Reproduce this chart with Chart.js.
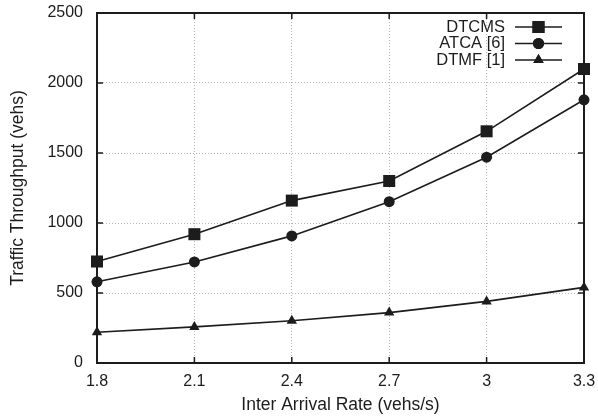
<!DOCTYPE html>
<html>
<head>
<meta charset="utf-8">
<script src="https://cdn.jsdelivr.net/npm/chart.js@4/dist/chart.umd.min.js"></script>
<style>
  html, body { margin: 0; padding: 0; background: #fff; }
  #wrap { width: 598px; height: 417px; }
</style>
</head>
<body>
<div id="wrap"><canvas id="chart"></canvas></div>
<script>
// values
const rates = ["1.8", "2.1", "2.4", "2.7", "3", "3.3"];
const dtcms = [725, 920, 1160, 1300, 1655, 2100];
const atca = [580, 722, 908, 1152, 1470, 1880];
const dtmf = [220, 258, 302, 360, 440, 540];
const yTicks = [0, 500, 1000, 1500, 2000, 2500];

const INK = "#1c1c1c";
const FONT = "'Liberation Sans', Arial, Helvetica, sans-serif";

// gnuplot-like frame: box + inward ticks on all four sides
const frame = {
  id: "frame",
  beforeDatasetsDraw(chart) {
    const { ctx, chartArea: a, scales } = chart;
    const len = 6;
    ctx.save();
    ctx.strokeStyle = INK;
    ctx.lineWidth = 1.5;
    ctx.beginPath();
    rates.forEach((_, i) => {
      const x = scales.x.getPixelForValue(i);
      ctx.moveTo(x, a.bottom); ctx.lineTo(x, a.bottom - len);
      ctx.moveTo(x, a.top); ctx.lineTo(x, a.top + len);
    });
    yTicks.forEach((v) => {
      const y = scales.y.getPixelForValue(v);
      ctx.moveTo(a.left, y); ctx.lineTo(a.left + len, y);
      ctx.moveTo(a.right, y); ctx.lineTo(a.right - len, y);
    });
    ctx.stroke();
    ctx.lineWidth = 2;
    ctx.strokeRect(a.left, a.top, a.right - a.left, a.bottom - a.top);
    ctx.restore();
  },
};

// key in the top right corner: text, then line sample with marker
const key = {
  id: "key",
  afterDatasetsDraw(chart) {
    const { ctx } = chart;
    const textRight = 505, lineL = 515, lineR = 562, rowTop = 27, rowGap = 16.5;
    ctx.save();
    ctx.font = "16.5px " + FONT;
    ctx.textAlign = "right";
    ctx.textBaseline = "middle";
    chart.data.datasets.forEach((ds, i) => {
      const y = rowTop + i * rowGap;
      ctx.fillStyle = INK;
      ctx.fillText(ds.label, textRight, y);
      ctx.strokeStyle = INK;
      ctx.lineWidth = 1.5;
      ctx.beginPath();
      ctx.moveTo(lineL, y); ctx.lineTo(lineR, y);
      ctx.stroke();
      Chart.helpers.drawPoint(ctx, {
        pointStyle: ds.pointStyle,
        radius: ds.pointRadius,
        rotation: 0,
        borderWidth: 0,
      }, (lineL + lineR) / 2, y);
      ctx.fill();
    });
    ctx.restore();
  },
};

function series(label, data, style, r) {
  return {
    label, data,
    borderColor: INK,
    backgroundColor: INK,
    borderWidth: 1.6,
    pointStyle: style,
    pointRadius: r,
    pointHoverRadius: r,
    pointBorderWidth: 0,
    tension: 0,
    clip: false,
  };
}

new Chart(document.getElementById("chart"), {
  type: "line",
  data: {
    labels: rates,
    datasets: [
      series("DTCMS", dtcms, "rect", 8.5),
      series("ATCA [6]", atca, "circle", 5.5),
      series("DTMF [1]", dtmf, "triangle", 6),
    ],
  },
  options: {
    responsive: true,
    maintainAspectRatio: false,
    animation: false,
    events: [],
    layout: { padding: { top: 13, right: 14, left: 0, bottom: 0 } },
    plugins: { legend: { display: false }, tooltip: { enabled: false } },
    scales: {
      x: {
        offset: false,
        grid: { color: "#b8b8b8", lineWidth: 1, drawTicks: false },
        border: { display: false, dash: [1, 2] },
        ticks: { color: INK, font: { family: FONT, size: 16 }, padding: 9, maxRotation: 0 },
        title: {
          display: true, text: "Inter Arrival Rate (vehs/s)", color: INK,
          font: { family: FONT, size: 17.5 }, padding: { top: 0, bottom: 1 },
        },
        afterFit: (s) => { s.height = 54; s.paddingLeft = 0; s.paddingRight = 0; },
      },
      y: {
        min: 0, max: 2500,
        grid: { color: "#b8b8b8", lineWidth: 1, drawTicks: false },
        border: { display: false, dash: [1, 2] },
        ticks: {
          stepSize: 500, color: INK, font: { family: FONT, size: 16 }, padding: 14,
          callback: (v) => String(v),
        },
        title: {
          display: true, text: "Traffic Throughput (vehs)", color: INK,
          font: { family: FONT, size: 17.5 }, padding: { top: 8, bottom: 0 },
        },
        afterFit: (s) => { s.width = 97; s.paddingTop = 0; s.paddingBottom = 0; },
      },
    },
  },
  plugins: [frame, key],
});
</script>
</body>
</html>
